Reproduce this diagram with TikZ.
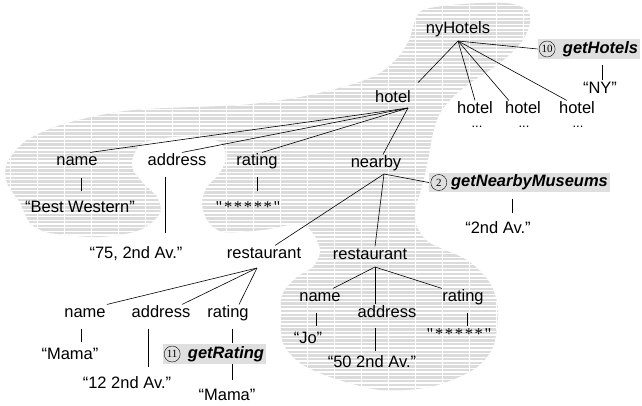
\documentclass[tikz,border=0pt]{standalone}
\usepackage{fontspec}
\setmainfont{Liberation Sans}
\newfontfamily\starfont[LetterSpace=10]{Liberation Serif}
\newfontfamily\numfont{Liberation Serif}
\begin{document}
\begin{tikzpicture}[x=1pt,y=-1pt,semithick,font=\fontsize{16.5}{19}\selectfont]
  \tikzset{ w/.style={inner sep=1pt,text height=11.5pt,text depth=3pt},
    fn/.style={w,fill=gray!25,inner xsep=2pt,inner ysep=2.5pt},
    cn/.style={circle,draw,thin,inner sep=0pt,minimum size=16pt,font=\numfont\fontsize{11}{11}\selectfont},
    v/.style={shorten <=7pt,shorten >=5pt},
    dots/.style={inner sep=0pt,font=\fontsize{13}{15}\selectfont},
  }
  \useasboundingbox (0,0) rectangle (642,405);

  % the shaded region
  \begin{scope}
    \clip plot[smooth cycle] coordinates {(413,27) (423,10) (463,4) (507,3) (527,10) (530,22)
      (523,40) (507,57) (490,70) (470,83) (453,97) (440,113) (433,133) (428,160) (421,190)
      (415,210) (417,227) (430,243) (467,260) (490,283) (498,310) (493,347) (473,370)
      (430,387) (380,390) (330,377) (300,363) (283,343) (280,313) (283,293) (297,277)
      (313,267) (320,253) (317,240) (307,227) (290,225) (263,230) (223,232) (207,220)
      (202,203) (207,187) (220,173) (226,157) (220,142) (200,137) (173,137) (143,143)
      (133,157) (133,170) (143,183) (157,197) (160,213) (140,230) (100,237) (50,233)
      (30,223) (20,203) (7,183) (7,163) (27,140) (67,123) (133,110) (240,105) (300,97)
      (350,85) (380,73) (400,55) (410,38)};
    \fill[gray!28] (0,0) rectangle (642,405);
    \foreach \y in {2,5.7,...,405} \draw[white,line width=1.4pt] (0,\y) -- (642,\y);
    \foreach \x in {10,37,...,642} \draw[white,line width=0.6pt] (\x,0) -- (\x,405);
  \end{scope}

  \node[w] (ny) at (458,29) {nyHotels};
  \node[fn] (gH) at (589,49) {\hspace{23pt}\textbf{\textit{getHotels}}};
  \node[cn] (c10) at ([xshift=9.5pt]gH.west) {10};
  \node[w] (NY) at (600,89) {“NY"};
  \node[w] (h) at (393,98) {hotel};
  \node[w] (h1) at (475,109) {hotel};
  \node[w] (h2) at (523,109) {hotel};
  \node[w] (h3) at (577,109) {hotel};
  \node[dots] (d1) at (477,127) {...};
  \node[dots] (d2) at (524,127) {...};
  \node[dots] (d3) at (578,127) {...};

  \node[w] (n1) at (77,161) {name};
  \node[w] (a1) at (177,161) {address};
  \node[w] (r1) at (257,161) {rating};
  \node[w] (nb) at (376,163) {nearby};
  \node[w] (BW) at (80,208) {“Best Western"};
  \node[w] (s75) at (136,254) {“75, 2nd Av."};
  \node[w] (st1) at (248,208) {\starfont"*****"};
  \node[fn] (gN) at (519.5,182.5) {\hspace{20pt}\textbf{\textit{getNearbyMuseums}}};
  \node[cn] (c2) at ([xshift=10pt]gN.west) {2};
  \node[w] (Av2) at (498,229) {“2nd Av."};

  \node[w] (rs1) at (264,254) {restaurant};
  \node[w] (rs2) at (370,255) {restaurant};

  \node[w] (n2) at (85,313) {name};
  \node[w] (a2) at (161,313) {address};
  \node[w] (r2) at (228,313) {rating};
  \node[w] (M1) at (70,355) {“Mama"};
  \node[w] (s12) at (127,384) {“12 2nd Av."};
  \node[fn] (gR) at (214.5,354) {\hspace{23pt}\textbf{\textit{getRating}}};
  \node[cn] (c11) at ([xshift=9.5pt]gR.west) {11};
  \node[w] (M2) at (227,396) {“Mama"};

  \node[w] (n3) at (320,297) {name};
  \node[w] (a3) at (387,313) {address};
  \node[w] (r3) at (463,297) {rating};
  \node[w] (Jo) at (308,339) {“Jo"};
  \node[w] (s50) at (372,363) {“50 2nd Av."};
  \node[w] (st2) at (459,335) {\starfont"*****"};

  \coordinate (nyF) at (458,41);
  \coordinate (hF) at (408,108);
  \coordinate (nbF) at (384,174);
  \coordinate (rF1) at (257,268);
  \coordinate (rF2) at (375,267);

  % the connection between the nodes
  \draw (nyF) -- ([shift={(6,-7)}]h.north east);
  \draw (nyF) -- (h1.north);
  \draw (nyF) -- ([xshift=5pt]h2.north west);
  \draw (nyF) -- ([xshift=9pt]h3.north west);
  \draw (nyF) -- (gH.west);
  \draw[v,shorten <=6pt,shorten >=0pt] ([xshift=2pt]gH.south -| NY.north) -- ([xshift=2pt]NY.north);

  \draw (hF) -- ([xshift=13pt]n1.north);
  \draw (hF) -- ([xshift=5pt]a1.north);
  \draw (hF) -- ([xshift=5pt]r1.north);
  \draw (hF) -- ([xshift=7pt]nb.north);
  \draw[v,shorten <=8.5pt,shorten >=8pt] ([xshift=4pt]n1.south) -- ([xshift=4pt]n1.south |- BW.north);
  \draw[v,shorten >=12pt] ([xshift=-12pt]a1.south) -- ([xshift=-12pt]a1.south |- s75.north);
  \draw[v,shorten >=8pt] (r1.south) -- (r1.south |- st1.north);

  \draw (nbF) -- ([xshift=11pt]rs1.north);
  \draw (nbF) -- ([xshift=5pt]rs2.north);
  \draw (nbF) -- (gN.west);
  \draw[v,shorten <=6pt,shorten >=7pt] ([xshift=14pt]gN.south -| Av2.north) -- ([xshift=14pt]Av2.north);

  \draw (rF1) -- (n2.north east);
  \draw (rF1) -- ([xshift=21pt]a2.north);
  \draw (rF1) -- ([xshift=11pt]r2.north);
  \draw[v,shorten >=4pt] ([xshift=-4pt]n2.south) -- ([xshift=-4pt]n2.south |- M1.north);
  \draw[v,shorten >=8pt] ([xshift=-13pt]a2.south) -- ([xshift=-13pt]a2.south |- s12.north);
  \draw[v,shorten >=1pt] ([xshift=4pt]r2.south) -- ([xshift=4pt]r2.south |- gR.north);
  \draw[v,shorten <=0pt,shorten >=7pt] ([xshift=4pt]r2.south |- gR.south) -- ([xshift=4pt]r2.south |- M2.north);

  \draw (rF2) -- ([xshift=13pt]n3.north);
  \draw (rF2) -- (rF2 |- a3.north);
  \draw (rF2) -- ([xshift=-21pt]r3.north);
  \draw[v,shorten >=4pt] ([xshift=-4pt]n3.south) -- ([xshift=-4pt]n3.south |- Jo.north);
  \draw[v,shorten <=6pt,shorten >=3pt] ([xshift=-12pt]a3.south) -- ([xshift=-12pt]a3.south |- s50.north);
  \draw[v,shorten >=0pt] ([xshift=4pt]r3.south) -- ([xshift=4pt]r3.south |- st2.north);
\end{tikzpicture}
\end{document}
